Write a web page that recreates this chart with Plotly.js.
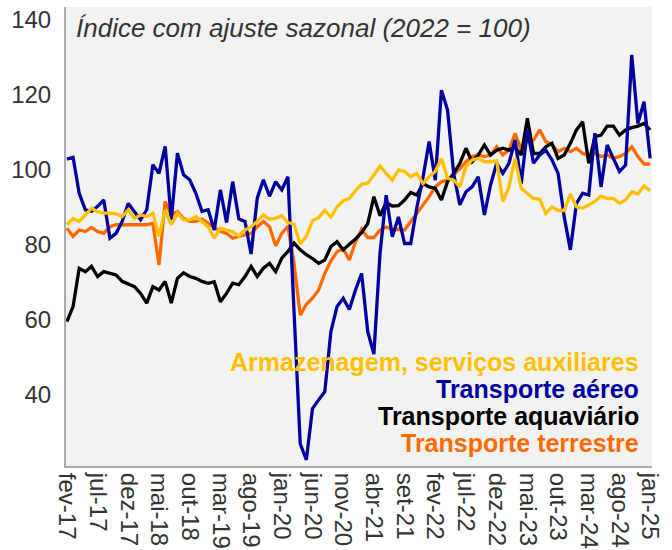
<!DOCTYPE html>
<html>
<head>
<meta charset="utf-8">
<script src="https://cdn.plot.ly/plotly-3.0.1.min.js"></script>
<style>html,body{margin:0;padding:0;background:#fff;}#chart{width:672px;height:550px;}</style>
</head>
<body>
<div id="chart"></div>
<script>
const monthNames = ["jan","fev","mar","abr","mai","jun","jul","ago","set","out","nov","dez"];
const months = [];
for (let k = 0; k < 96; k++) {
  const m = (1 + k) % 12;
  const y = 17 + Math.floor((1 + k) / 12);
  months.push(monthNames[m] + "-" + y);
}

const armazenagem = [85.4,87.1,86.3,88,89.8,88.9,88.5,88.5,88.3,87.6,89.4,87.1,88,87.6,88.5,82.3,89.4,85.4,88.5,86.7,86.7,87.6,86.3,84.9,
81.8,84.5,84,83.6,82.4,84,84.9,86.3,88,86.9,87.1,87.8,86,85.6,80.3,82.3,86.5,87.3,89.2,87.4,90.2,91.8,92.4,94.5,
96.2,96.5,98.7,101,99.1,97.3,100,99.6,98.2,99.1,96.4,98.2,99.6,103.1,97.8,97.3,95.5,100.9,102.7,103.1,102.2,102.2,102.5,91.6,
95.5,103.1,95.1,93.8,92.4,92.2,88.4,90.2,89.2,89.2,93.6,90.2,89.8,90.7,91.6,93.1,92.4,92.4,91.1,92,94.2,93.6,95.7,94.5];

const aereo = [102.9,103.4,93.8,89.4,89,90.3,92,81.8,83.1,86.3,91.1,89,86.7,89.4,101.4,99.1,106.3,86.7,104.5,98.7,97.4,93.8,89,89.4,
84,94.7,86,96.9,87,86.3,77.6,92.5,97.4,93,96.9,94.7,98.2,62,27,22.7,36.4,38.7,40.9,56.9,63.6,65.8,62.8,68,
72.4,56.9,50.9,77.8,93.3,82.2,87.5,80.4,80.4,90,98,107.6,97.3,121.3,116,99,90.7,94.2,95.5,98.2,88,96,101.8,99.1,
101.8,108,96.4,110.7,101.8,104,105.3,102.7,99.1,87.5,78.7,91.1,93.8,93.3,109.8,95.5,106.7,103.1,99.6,101.3,130.7,112.4,118.2,103.1];

const aquaviario = [59.6,63.6,73.8,72.9,74.3,71.6,72.9,72.5,72,70.3,69.6,68.9,67.1,64.5,68.9,68,70.3,64.5,71.1,72.6,71.6,71.1,70.3,69.8,
70.2,64.9,67.1,69.8,69.4,71.6,74.3,71.6,73.8,75.1,72.9,76.5,78.3,80.5,78.7,77.4,76.4,75.1,76,79.6,80.9,78.7,80.2,81.6,
83.3,85.7,92.9,87.8,91.3,90.4,90.5,92,94,93.3,96.4,95.5,95.1,92,96.9,99.1,101.8,105.8,102.2,104,106.7,104,105.3,105.8,
105.3,106,104,113.8,104.4,104.4,106.2,107.1,103.1,104,107.1,110.7,112.9,101.8,108.9,109.3,111.7,111.7,109.3,110.7,111.3,111.7,112.4,110.7];

const terrestre = [84.5,82.3,84,83.6,84.7,83.6,83.1,84.9,85.4,85.4,85.4,85.4,85.4,85.4,85.8,74.7,91.6,88,88.9,87.1,86.3,86.3,86.9,85.8,
84.5,83.6,83.1,81.8,82.3,82.7,83.1,84.9,86.3,84.9,79.8,83.1,85,75,61.3,64.2,65.8,68,72.4,75.8,78.2,79,76,80.8,
84.2,82,82,84,84.8,84.1,84.2,84,86.2,88.4,90.7,92.9,95.5,96.9,97.3,98.7,100.4,102.2,103.6,104,103.6,104,106.2,104,
105.3,109.8,105.3,107.6,108,110.7,107.6,106.7,104.9,105.8,104.9,105.8,104.4,104,104.4,103.6,104,103.1,103.6,104.4,106.2,103.6,101.6,101.6];

const seriesNames = ["Armazenagem, serviços auxiliares","Transporte aéreo","Transporte aquaviário","Transporte terrestre"];
const seriesColors = ["#FFC000","#0000A0","#000000","#FF6A00"];
const tickLabels = months.filter((_, k) => k % 5 === 0);
const titleText = "Índice com ajuste sazonal (2022 = 100)";
const yTicks = [40,60,80,100,120,140];

const dataSets = [armazenagem, aereo, aquaviario, terrestre];
const drawOrder = [3, 2, 1, 0];
const traces = drawOrder.map(k => ({
  x: months, y: dataSets[k], type: "scatter", mode: "lines",
  name: seriesNames[k], line: {color: seriesColors[k], width: 3.3}, hoverinfo: "skip"
}));

const legendY = [0.227, 0.168, 0.109, 0.050];
const annotations = [{
  text: "<i>" + titleText + "</i>", xref: "paper", yref: "paper", x: 0.014, y: 0.955,
  xanchor: "left", yanchor: "middle", showarrow: false,
  font: {family: "Liberation Sans, Arial, sans-serif", size: 26, color: "#333333"}
}];
seriesNames.forEach((n, k) => annotations.push({
  text: "<b>" + n + "</b>", xref: "paper", yref: "paper", x: 0.982, y: legendY[k],
  xanchor: "right", yanchor: "middle", showarrow: false,
  font: {family: "Liberation Sans, Arial, sans-serif", size: 25, color: seriesColors[k]}
}));

const layout = {
  width: 672, height: 550,
  margin: {l: 66, r: 20, t: 7, b: 84},
  paper_bgcolor: "#ffffff", plot_bgcolor: "#f2f2f2",
  showlegend: false,
  font: {family: "Liberation Sans, Arial, sans-serif", size: 24, color: "#333333"},
  xaxis: {
    type: "category", range: [-0.15, 95.3],
    tickvals: tickLabels, ticktext: tickLabels, tickangle: 90,
    showgrid: false, zeroline: false, showline: true, linecolor: "#aaaaaa", linewidth: 2,
    ticks: "", tickfont: {size: 24, color: "#333333"}
  },
  yaxis: {
    range: [21.07, 143.47], tickvals: yTicks,
    showgrid: false, zeroline: false, showline: true, linecolor: "#aaaaaa", linewidth: 2,
    ticks: "", ticklabelstandoff: 8, tickfont: {size: 24, color: "#333333"}
  },
  annotations: annotations
};

Plotly.newPlot("chart", traces, layout, {displayModeBar: false, staticPlot: true});
</script>
</body>
</html>
